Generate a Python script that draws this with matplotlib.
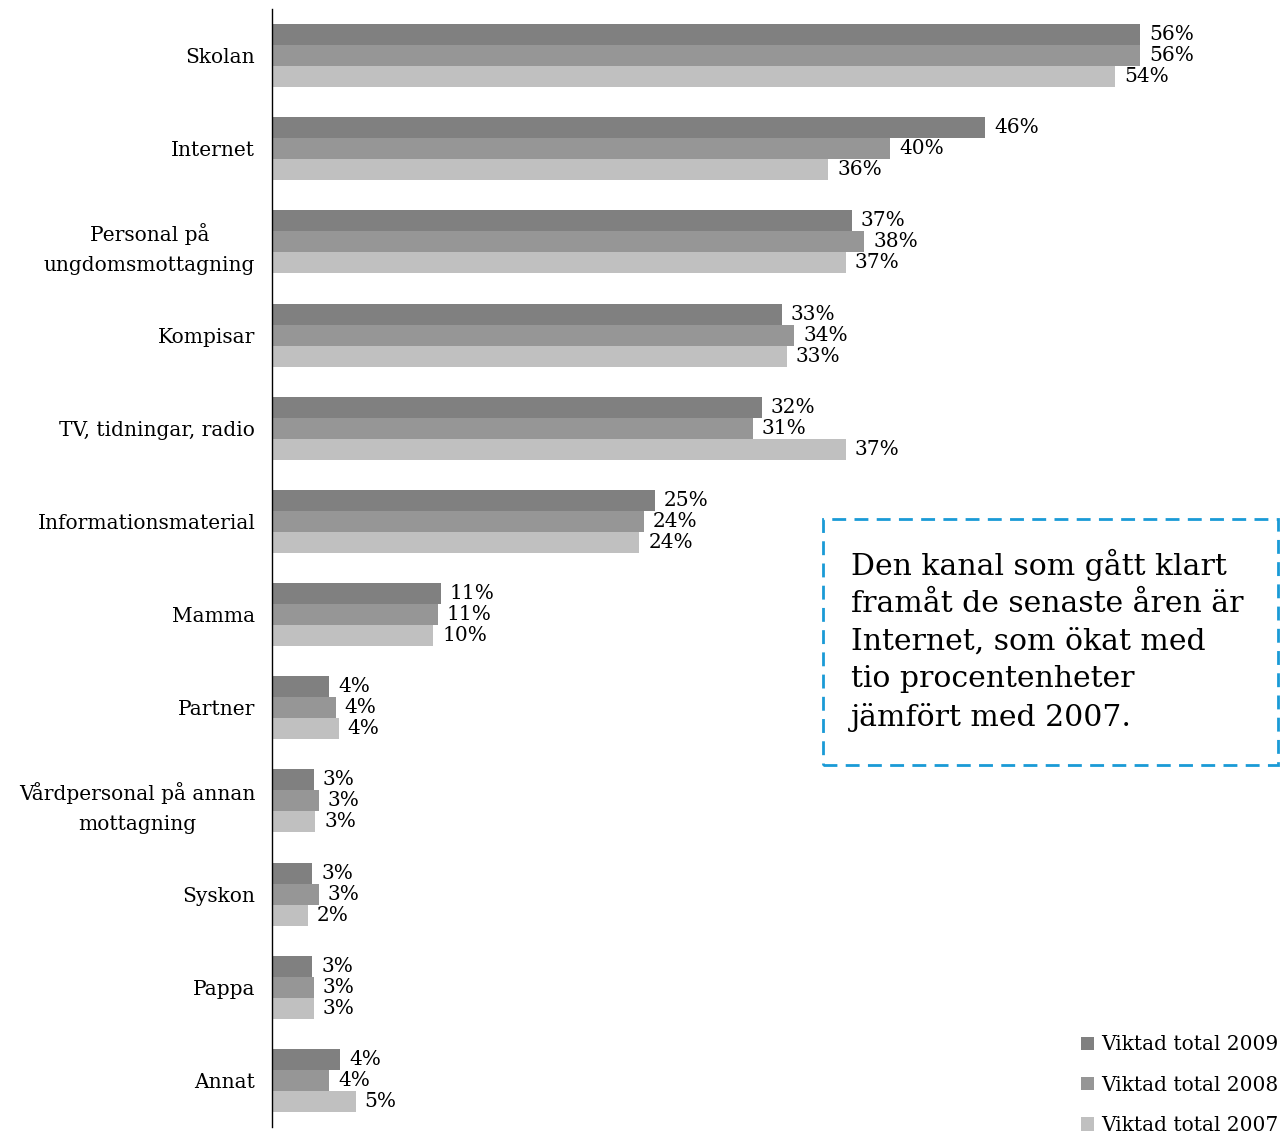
import matplotlib
matplotlib.use("Agg")
import matplotlib.pyplot as plt
import matplotlib.patches as mpatches
import numpy as np

categories = ["Skolan", "Internet", "Personal på\nungdomsmottagning", "Kompisar",
              "TV, tidningar, radio", "Informationsmaterial", "Mamma", "Partner",
              "Vårdpersonal på annan\nmottagning", "Syskon", "Pappa", "Annat"]
v2009 = [56.0, 46.0, 37.4, 32.9, 31.6, 24.7, 10.9, 3.7, 2.7, 2.6, 2.6, 4.4]
v2008 = [56.0, 39.9, 38.2, 33.7, 31.0, 24.0, 10.7, 4.1, 3.0, 3.0, 2.7, 3.7]
v2007 = [54.4, 35.9, 37.0, 33.2, 37.0, 23.7, 10.4, 4.3, 2.8, 2.3, 2.7, 5.4]
series_names = ["Viktad total 2009", "Viktad total 2008", "Viktad total 2007"]
colors = ["#808080", "#969696", "#c0c0c0"]
note = ("Den kanal som gått klart\nframåt de senaste åren är\nInternet, som ökat med\n"
        "tio procentenheter\njämfört med 2007.")

plt.rcParams['font.family'] = ['DejaVu Serif']
FS = 14.5

W, H = 1286, 1133
fig = plt.figure(figsize=(W / 100, H / 100), dpi=100)
ax = fig.add_axes([272 / W, 1 - 1127 / H, (W - 272) / W, (1127 - 9) / H])

y = np.arange(len(categories))
h = 0.2255
for i, (vals, name, c) in enumerate(zip([v2009, v2008, v2007], series_names, colors)):
    pos = y + (i - 1) * h
    ax.barh(pos, vals, height=h, color=c, label=name)
    for p, v in zip(pos, vals):
        ax.annotate(f"{round(v)}%", (v, p), xytext=(6.5, 0), textcoords="offset points",
                    va="center", ha="left", fontsize=FS)

ax.set_xlim(0, (W - 272) / 15.5)
ax.set_ylim(len(categories) - 0.5, -0.5)
ax.set_yticks(y)
ax.set_yticklabels(categories, fontsize=FS, multialignment="center", linespacing=1.72)
ax.tick_params(axis="y", length=0, pad=12)
ax.set_xticks([])
for s in ["top", "right", "bottom"]:
    ax.spines[s].set_visible(False)
ax.spines["left"].set_linewidth(1.0)

# Annotation box
rect = mpatches.Rectangle((823 / W, 1 - 765 / H), (1278 - 823) / W, (765 - 519) / H,
                          transform=fig.transFigure, fill=False, edgecolor="#1a9ad6",
                          linestyle=(0, (5, 3)), linewidth=2)
fig.patches.append(rect)
fig.text(851 / W, 1 - 549 / H, note, fontsize=21.5, va="top", ha="left", linespacing=1.42)

leg = fig.legend(loc="lower right", bbox_to_anchor=(1.0, -0.009), frameon=False,
                 fontsize=FS, handlelength=0.65, handleheight=0.65, handletextpad=0.35,
                 labelspacing=1.06, borderaxespad=0)

fig.savefig("out.png", dpi=100)
